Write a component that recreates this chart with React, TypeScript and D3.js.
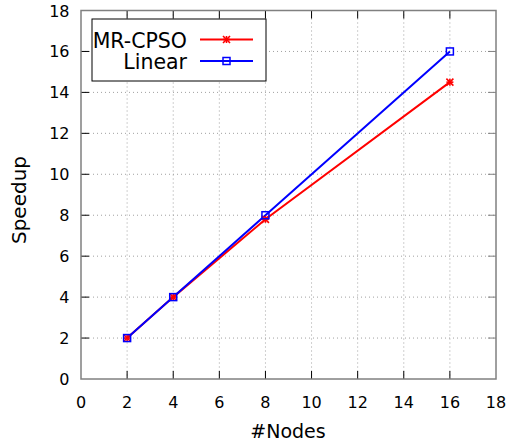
import React from "react";
import * as d3 from "d3";

const nodes = [2, 4, 8, 16];
const mrCpso = [2, 4, 7.8, 14.5];
const linear = [2, 4, 8, 16];
const xTicks = [0, 2, 4, 6, 8, 10, 12, 14, 16, 18];
const yTicks = [0, 2, 4, 6, 8, 10, 12, 14, 16, 18];
const seriesNames = ["MR-CPSO", "Linear"];

const W = 513;
const H = 447;
const m = { left: 81, right: 496, top: 10.5, bottom: 379 };
const font = "DejaVu Sans, sans-serif";

export default function App() {
  const x = d3.scaleLinear().domain([0, 18]).range([m.left, m.right]);
  const y = d3.scaleLinear().domain([0, 18]).range([m.bottom, m.top]);
  const line = d3
    .line<[number, number]>()
    .x((d) => x(d[0]))
    .y((d) => y(d[1]));
  const red = nodes.map((n, i) => [n, mrCpso[i]] as [number, number]);
  const blue = nodes.map((n, i) => [n, linear[i]] as [number, number]);
  const tl = 8;

  const star = (cx: number, cy: number, key: string | number) => {
    const s = 3.5;
    return (
      <g key={key} stroke="#ff0000" strokeWidth={1.6}>
        <line x1={cx - s} y1={cy} x2={cx + s} y2={cy} />
        <line x1={cx} y1={cy - s} x2={cx} y2={cy + s} />
        <line x1={cx - s} y1={cy - s} x2={cx + s} y2={cy + s} />
        <line x1={cx - s} y1={cy + s} x2={cx + s} y2={cy - s} />
      </g>
    );
  };
  const square = (cx: number, cy: number, key: string | number) => (
    <rect
      key={key}
      x={cx - 3.5}
      y={cy - 3.5}
      width={7}
      height={7}
      fill="none"
      stroke="#0000ff"
      strokeWidth={1.5}
    />
  );

  return (
    <svg width={W} height={H} style={{ position: "absolute", left: 0, top: 0 }}>
      <rect width={W} height={H} fill="#fff" />
      {/* grid */}
      <g stroke="#a0a0a0" strokeWidth={1} strokeDasharray="1,3">
        {xTicks.slice(1, -1).map((t) => (
          <line key={"gx" + t} x1={x(t)} x2={x(t)} y1={m.top} y2={m.bottom} />
        ))}
        {yTicks.slice(1, -1).map((t) => (
          <line key={"gy" + t} x1={m.left} x2={m.right} y1={y(t)} y2={y(t)} />
        ))}
      </g>
      {/* ticks */}
      <g stroke="#000" strokeWidth={1}>
        {xTicks.slice(1, -1).map((t) => (
          <g key={"tx" + t}>
            <line x1={x(t)} x2={x(t)} y1={m.bottom} y2={m.bottom - tl} />
            <line x1={x(t)} x2={x(t)} y1={m.top} y2={m.top + tl} />
          </g>
        ))}
        {yTicks.slice(1, -1).map((t) => (
          <g key={"ty" + t}>
            <line x1={m.left} x2={m.left + tl} y1={y(t)} y2={y(t)} />
            <line x1={m.right} x2={m.right - tl} y1={y(t)} y2={y(t)} stroke="#808080" />
          </g>
        ))}
      </g>
      {/* frame */}
      <rect
        x={m.left}
        y={m.top}
        width={m.right - m.left}
        height={m.bottom - m.top}
        fill="none"
        stroke="#808080"
        strokeWidth={1.5}
      />
      {/* tick labels */}
      <g fontFamily={font} fontSize={16} fill="#000">
        {xTicks.map((t) => (
          <text key={"lx" + t} x={x(t)} y={408} textAnchor="middle">
            {t}
          </text>
        ))}
        {yTicks.map((t) => (
          <text key={"ly" + t} x={69.5} y={y(t) + 6} textAnchor="end">
            {t}
          </text>
        ))}
      </g>
      {/* axis titles */}
      <text x={288} y={438} textAnchor="middle" fontFamily={font} fontSize={19}>
        #Nodes
      </text>
      <text
        transform="translate(26,200) rotate(-90)"
        textAnchor="middle"
        fontFamily={font}
        fontSize={20}
      >
        Speedup
      </text>
      {/* series */}
      <path d={line(red) || ""} fill="none" stroke="#ff0000" strokeWidth={2} />
      <path d={line(blue) || ""} fill="none" stroke="#0000ff" strokeWidth={2} />
      {red.map((d, i) => star(x(d[0]), y(d[1]), "r" + i))}
      {blue.map((d, i) => square(x(d[0]), y(d[1]), "b" + i))}
      {/* legend */}
      <rect x={92} y={19} width={174} height={62} fill="#fff" stroke="#000" strokeWidth={1} />
      <g fontFamily={font} fontSize={20.5}>
        <text x={187} y={48} textAnchor="end">
          {seriesNames[0]}
        </text>
        <text x={187} y={69} textAnchor="end">
          {seriesNames[1]}
        </text>
      </g>
      <line x1={200} x2={253} y1={39.5} y2={39.5} stroke="#ff0000" strokeWidth={2} />
      {star(226.5, 39.5, "ls")}
      <line x1={200} x2={253} y1={61} y2={61} stroke="#0000ff" strokeWidth={2} />
      {square(226.5, 61, "lb")}
    </svg>
  );
}
